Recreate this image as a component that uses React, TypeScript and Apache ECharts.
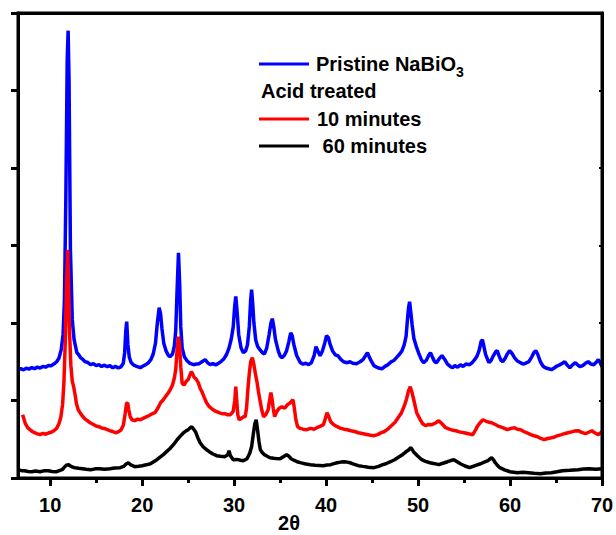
import React, { useEffect, useRef } from "react";
import * as echarts from "echarts";

// 2θ (deg), intensity (a.u.)
const pristineData: number[][] = [
  [6.5,1398],[6.8,1410],[7.1,1395],[7.4,1418],[7.7,1405],[8.0,1425],[8.3,1412],[8.6,1430],[8.9,1418],[9.2,1440],[9.5,1430],[9.8,1452],[10.1,1448],[10.4,1470],[10.7,1500],[10.95,1545],[11.2,1656],[11.4,1850],[11.55,2300],[11.7,3591],[11.85,5397],[11.95,5772],[12.05,5140],[12.2,2946],[12.4,2043],[12.6,1785],[12.9,1617],[13.1,1590],[13.3,1553],[13.55,1530],[13.8,1501],[14.1,1490],[14.4,1462],[14.7,1475],[15.0,1450],[15.3,1462],[15.6,1440],[15.9,1455],[16.2,1436],[16.5,1448],[16.8,1423],[17.1,1440],[17.4,1420],[17.7,1435],[17.95,1480],[18.1,1620],[18.22,1900],[18.32,2017],[18.45,1720],[18.6,1560],[18.8,1490],[19.1,1455],[19.4,1440],[19.8,1423],[20.1,1445],[20.4,1462],[20.7,1490],[20.95,1527],[21.2,1600],[21.45,1740],[21.65,2000],[21.85,2198],[22.0,2120],[22.15,1930],[22.35,1740],[22.6,1640],[22.85,1580],[23.05,1566],[23.3,1600],[23.5,1700],[23.65,1900],[23.8,2430],[23.95,2907],[24.08,2500],[24.2,1950],[24.35,1680],[24.6,1560],[24.9,1510],[25.2,1480],[25.6,1462],[25.9,1470],[26.2,1475],[26.5,1500],[26.85,1527],[27.1,1490],[27.4,1462],[27.7,1475],[28.0,1460],[28.3,1480],[28.6,1505],[28.9,1540],[29.2,1600],[29.45,1680],[29.7,1800],[29.9,1950],[30.05,2200],[30.18,2342],[30.32,2150],[30.5,1849],[30.75,1680],[31.0,1617],[31.25,1640],[31.45,1720],[31.65,1950],[31.8,2301],[31.9,2430],[32.02,2250],[32.15,2000],[32.35,1780],[32.55,1700],[32.8,1656],[33.05,1620],[33.3,1600],[33.55,1680],[33.8,1849],[34.0,2000],[34.15,2056],[34.3,1960],[34.5,1785],[34.8,1640],[35.0,1575],[35.2,1553],[35.45,1580],[35.7,1640],[35.95,1760],[36.15,1874],[36.3,1840],[36.5,1720],[36.8,1580],[37.2,1488],[37.5,1470],[37.8,1480],[38.1,1462],[38.4,1490],[38.7,1580],[38.9,1694],[39.1,1640],[39.35,1579],[39.6,1640],[39.85,1740],[40.05,1836],[40.25,1810],[40.45,1720],[40.7,1640],[41.0,1590],[41.3,1575],[41.6,1530],[41.9,1500],[42.3,1488],[42.6,1500],[42.9,1480],[43.3,1475],[43.7,1500],[44.0,1527],[44.3,1580],[44.5,1617],[44.7,1560],[44.95,1501],[45.2,1450],[45.5,1430],[45.8,1415],[46.1,1410],[46.4,1440],[46.7,1460],[47.1,1501],[47.4,1520],[47.7,1560],[48.0,1600],[48.25,1640],[48.5,1720],[48.7,1830],[48.85,2050],[48.97,2200],[49.08,2274],[49.2,2150],[49.35,1980],[49.55,1800],[49.85,1681],[50.1,1600],[50.35,1530],[50.6,1488],[50.9,1520],[51.15,1580],[51.35,1617],[51.6,1550],[51.8,1500],[52.0,1488],[52.3,1540],[52.6,1579],[52.9,1530],[53.2,1470],[53.5,1440],[53.75,1423],[54.0,1450],[54.3,1430],[54.6,1460],[54.9,1440],[55.2,1470],[55.6,1462],[55.9,1490],[56.15,1527],[56.4,1570],[56.65,1650],[56.85,1760],[57.0,1785],[57.15,1700],[57.35,1592],[57.7,1488],[57.95,1520],[58.2,1580],[58.45,1630],[58.6,1643],[58.8,1580],[59.0,1520],[59.2,1501],[59.45,1540],[59.7,1600],[59.95,1643],[60.2,1610],[60.5,1550],[60.8,1510],[61.15,1488],[61.4,1470],[61.7,1480],[62.05,1501],[62.35,1560],[62.6,1620],[62.8,1643],[63.0,1600],[63.3,1500],[63.6,1440],[63.9,1420],[64.2,1410],[64.5,1398],[64.8,1420],[65.1,1445],[65.4,1460],[65.7,1480],[65.95,1501],[66.2,1460],[66.5,1423],[66.8,1460],[67.1,1488],[67.35,1460],[67.6,1436],[67.9,1450],[68.2,1480],[68.5,1501],[68.8,1470],[69.1,1462],[69.35,1490],[69.6,1527],[69.8,1490],[70.0,1436]
];

const acid10Data: number[][] = [
  [7.0,817],[7.15,760],[7.3,701],[7.55,650],[7.8,623],[8.05,600],[8.3,584],[8.6,570],[8.9,559],[9.2,575],[9.5,565],[9.8,580],[10.1,590],[10.4,610],[10.7,640],[10.95,700],[11.15,780],[11.35,950],[11.5,1250],[11.65,1800],[11.78,2500],[11.9,2946],[12.0,2430],[12.1,1900],[12.25,1450],[12.4,1250],[12.55,1178],[12.7,1080],[12.85,960],[13.05,880],[13.25,843],[13.5,800],[13.8,760],[14.1,735],[14.35,713],[14.7,690],[15.0,670],[15.3,662],[15.6,645],[15.9,640],[16.2,623],[16.5,610],[16.8,600],[17.1,584],[17.4,595],[17.7,620],[17.95,680],[18.15,830],[18.3,960],[18.42,971],[18.55,880],[18.7,790],[18.9,752],[19.2,740],[19.5,760],[19.8,752],[20.1,770],[20.5,791],[20.8,810],[21.1,830],[21.4,843],[21.7,900],[22.0,971],[22.3,1010],[22.6,1060],[22.85,1100],[23.05,1139],[23.3,1200],[23.5,1290],[23.65,1400],[23.8,1650],[23.95,1823],[24.08,1700],[24.2,1430],[24.35,1220],[24.55,1200],[24.8,1250],[25.0,1268],[25.2,1330],[25.35,1372],[25.5,1340],[25.65,1300],[25.85,1280],[26.1,1230],[26.3,1160],[26.5,1113],[26.75,1040],[27.0,971],[27.3,920],[27.6,890],[27.85,870],[28.1,855],[28.4,840],[28.7,830],[29.0,830],[29.3,815],[29.6,817],[29.9,860],[30.07,1000],[30.18,1178],[30.28,1000],[30.4,817],[30.55,752],[30.8,770],[31.0,791],[31.2,791],[31.35,900],[31.5,1150],[31.65,1350],[31.8,1501],[31.98,1552],[32.15,1462],[32.35,1320],[32.5,1230],[32.65,1110],[32.8,1010],[33.0,880],[33.2,791],[33.45,820],[33.7,881],[33.85,1000],[34.0,1101],[34.12,1020],[34.25,900],[34.4,791],[34.6,850],[34.9,900],[35.2,920],[35.5,900],[35.8,946],[36.0,960],[36.2,984],[36.4,1010],[36.55,900],[36.7,760],[36.9,662],[37.2,640],[37.5,630],[37.9,623],[38.3,640],[38.7,630],[39.0,649],[39.4,670],[39.7,688],[39.9,760],[40.1,843],[40.3,790],[40.5,726],[40.8,690],[41.2,662],[41.6,640],[42.0,630],[42.3,623],[42.7,610],[43.1,600],[43.5,584],[43.9,575],[44.3,565],[44.7,555],[45.2,546],[45.6,560],[46.0,585],[46.3,597],[46.7,630],[47.1,675],[47.5,720],[47.85,780],[48.2,843],[48.5,930],[48.75,1020],[48.95,1120],[49.15,1178],[49.35,1100],[49.55,1000],[49.85,843],[50.2,760],[50.5,700],[50.8,675],[51.1,690],[51.5,688],[51.9,710],[52.25,739],[52.6,700],[53.0,649],[53.4,630],[53.8,615],[54.1,610],[54.5,595],[55.0,584],[55.5,570],[55.95,559],[56.25,620],[56.5,675],[56.8,720],[57.05,752],[57.35,735],[57.7,720],[58.0,713],[58.4,690],[58.8,665],[59.2,649],[59.7,623],[60.1,640],[60.5,649],[60.8,630],[61.15,623],[61.5,600],[61.9,580],[62.25,559],[62.6,545],[63.0,533],[63.35,510],[63.7,494],[64.1,510],[64.5,520],[64.85,530],[65.2,546],[65.6,560],[66.0,575],[66.3,584],[66.7,595],[67.0,605],[67.4,610],[67.8,590],[68.2,571],[68.55,590],[68.9,610],[69.25,580],[69.6,559],[69.8,580],[70.0,597]
];

const acid60Data: number[][] = [
  [6.5,107],[6.9,95],[7.2,94],[7.6,85],[8.0,81],[8.4,90],[8.9,81],[9.3,92],[9.8,94],[10.2,85],[10.7,81],[11.0,95],[11.3,107],[11.55,140],[11.75,165],[12.0,172],[12.2,155],[12.45,140],[12.7,133],[13.1,125],[13.5,120],[13.9,112],[14.4,107],[14.9,118],[15.4,120],[15.9,112],[16.5,120],[17.0,128],[17.6,133],[18.0,150],[18.25,180],[18.5,197],[18.75,170],[18.95,159],[19.2,146],[19.6,152],[20.0,159],[20.45,170],[20.9,184],[21.25,210],[21.6,236],[21.95,270],[22.3,301],[22.65,340],[23.0,378],[23.4,430],[23.8,494],[24.15,540],[24.5,584],[24.75,605],[25.0,623],[25.2,645],[25.4,662],[25.6,630],[25.8,597],[26.05,520],[26.3,455],[26.65,400],[27.0,365],[27.3,340],[27.7,310],[28.1,288],[28.5,280],[29.0,275],[29.3,300],[29.45,352],[29.58,290],[29.75,262],[29.9,236],[30.3,240],[30.7,230],[31.0,223],[31.4,249],[31.7,320],[31.9,404],[32.08,560],[32.25,700],[32.4,752],[32.55,620],[32.7,470],[32.85,365],[33.05,330],[33.3,301],[33.6,280],[33.9,262],[34.3,255],[34.6,250],[35.0,249],[35.35,275],[35.7,301],[35.95,280],[36.2,249],[36.5,230],[36.85,210],[37.3,195],[37.8,180],[38.3,172],[38.8,165],[39.3,162],[39.7,159],[40.1,168],[40.5,172],[40.85,185],[41.2,197],[41.6,205],[42.0,210],[42.3,205],[42.6,197],[43.0,180],[43.5,159],[44.0,150],[44.6,140],[45.2,133],[45.7,150],[46.1,170],[46.5,184],[47.0,210],[47.45,236],[47.9,270],[48.3,301],[48.65,335],[49.0,365],[49.2,391],[49.35,370],[49.5,339],[49.9,290],[50.4,236],[50.8,215],[51.3,197],[51.8,185],[52.25,172],[52.7,190],[53.2,210],[53.55,225],[53.9,236],[54.25,210],[54.6,184],[55.1,155],[55.6,133],[56.2,160],[56.8,184],[57.2,205],[57.6,223],[57.85,250],[58.0,262],[58.2,235],[58.4,197],[58.65,160],[58.9,133],[59.4,105],[60.0,81],[60.4,75],[60.8,68],[61.4,75],[62.0,68],[62.6,60],[63.3,55],[63.9,65],[64.5,68],[65.1,80],[65.7,94],[66.5,100],[67.4,107],[68.0,115],[68.6,120],[69.3,112],[70.0,120]
];

const seriesNames = ["Pristine NaBiO3", "10 minutes", "60 minutes"];
const seriesColors = ["#0000ff", "#ff0000", "#000000"];
const xMajorTicks = [10, 20, 30, 40, 50, 60, 70];
const xMinorTicks = [15, 25, 35, 45, 55, 65];
const xMin = 6.5;
const xMax = 70;
const yMax = 6000;
const yStep = 1000;
const groupLabel = "Acid treated";
const xAxisName = "2θ";

const FONT = '"Liberation Sans", Arial, sans-serif';

const GRID_LEFT = 18;
const GRID_RIGHT = 14;
const GRID_TOP = 13;
const GRID_BOTTOM = 57;
const W = 616;
const H = 535;

export default function App() {
  const ref = useRef<HTMLDivElement>(null);
  useEffect(() => {
    if (!ref.current) return;
    const chart = echarts.init(ref.current, null, { renderer: "svg" });
    const mkLine = () => ({ show: true, onZero: false, lineStyle: { color: "#000", width: 3 } });
    const labelText = { fontFamily: FONT, fontWeight: "bold" as const, fontSize: 20, color: "#000", lineHeight: 24 };
    const gridBox = () => ({
      left: GRID_LEFT, right: GRID_RIGHT, top: GRID_TOP, bottom: GRID_BOTTOM,
      containLabel: false, outerBoundsMode: "none",
    });
    chart.setOption({
      animation: false,
      grid: [gridBox(), gridBox()],
      xAxis: [
        {
          gridIndex: 0, type: "value", min: xMin, max: xMax, position: "bottom",
          axisLine: mkLine(), splitLine: { show: false },
          axisTick: { show: true, inside: false, length: 8, lineStyle: { width: 3, color: "#000" }, customValues: xMajorTicks },
          axisLabel: { show: true, margin: 15, customValues: xMajorTicks, ...labelText },
          name: xAxisName, nameLocation: "middle", nameGap: 33, nameMoveOverlap: false,
          nameTextStyle: { ...labelText, padding: [0, 42, 0, 0] },
        },
        {
          gridIndex: 0, type: "value", min: xMin, max: xMax, position: "top",
          axisLine: mkLine(), splitLine: { show: false },
          axisTick: { show: false },
          axisLabel: { show: false },
        },
        {
          gridIndex: 1, type: "value", min: xMin, max: xMax, position: "bottom",
          axisLine: { show: false }, splitLine: { show: false },
          axisTick: { show: true, inside: false, length: 5, lineStyle: { width: 3, color: "#000" }, customValues: xMinorTicks },
          axisLabel: { show: false },
        },
      ],
      yAxis: [
        {
          gridIndex: 0, type: "value", min: 0, max: yMax, interval: yStep, position: "left",
          axisLine: mkLine(), splitLine: { show: false },
          axisTick: { show: true, inside: false, length: 7, lineStyle: { width: 3, color: "#000" } },
          axisLabel: { show: false },
        },
        {
          gridIndex: 0, type: "value", min: 0, max: yMax, interval: yStep, position: "right",
          axisLine: mkLine(), splitLine: { show: false },
          axisTick: { show: true, inside: true, length: 3, lineStyle: { width: 2, color: "#000" } },
          axisLabel: { show: false },
        },
        {
          gridIndex: 1, type: "value", min: 0, max: yMax, show: false,
        },
      ],
      legend: [
        {
          data: [seriesNames[0]], orient: "vertical", left: 259, top: 49, padding: 0,
          icon: "rect", itemWidth: 50, itemHeight: 3, selectedMode: false,
          formatter: () => "Pristine NaBiO{sub|3}",
          textStyle: {
            ...labelText, padding: [0, 0, 0, 2],
            rich: { sub: { fontFamily: FONT, fontWeight: "bold", fontSize: 14, color: "#000", padding: [16, 0, 0, 0], lineHeight: 24 } },
          },
        },
        {
          data: [seriesNames[1], seriesNames[2]], orient: "vertical", left: 259, top: 107, padding: 0,
          icon: "rect", itemWidth: 50, itemHeight: 3, itemGap: 3, selectedMode: false,
          formatter: (n: string) => (n === seriesNames[2] ? " " + n : n),
          textStyle: { ...labelText, padding: [0, 0, 0, 3] },
        },
      ],
      graphic: [
        {
          type: "text", left: 261, top: 81,
          style: { text: groupLabel, font: `bold 20px ${FONT}`, fill: "#000" },
        },
        {
          type: "rect", z: 100,
          shape: { x: GRID_LEFT, y: GRID_TOP, width: W - GRID_LEFT - GRID_RIGHT, height: H - GRID_TOP - GRID_BOTTOM },
          style: { fill: "none", stroke: "#000", lineWidth: 3 },
          silent: true,
        },
      ],
      series: [pristineData, acid10Data, acid60Data].map((d, i) => ({
        name: seriesNames[i],
        type: "line",
        data: d,
        xAxisIndex: 0,
        yAxisIndex: 0,
        showSymbol: false,
        symbol: "none",
        color: seriesColors[i],
        lineStyle: { color: seriesColors[i], width: 3.5 },
        z: 2 + i,
      })),
    });
    return () => chart.dispose();
  }, []);
  return (
    <div
      ref={ref}
      style={{ position: "fixed", left: 0, top: 0, width: W, height: H, background: "#fff" }}
    />
  );
}
